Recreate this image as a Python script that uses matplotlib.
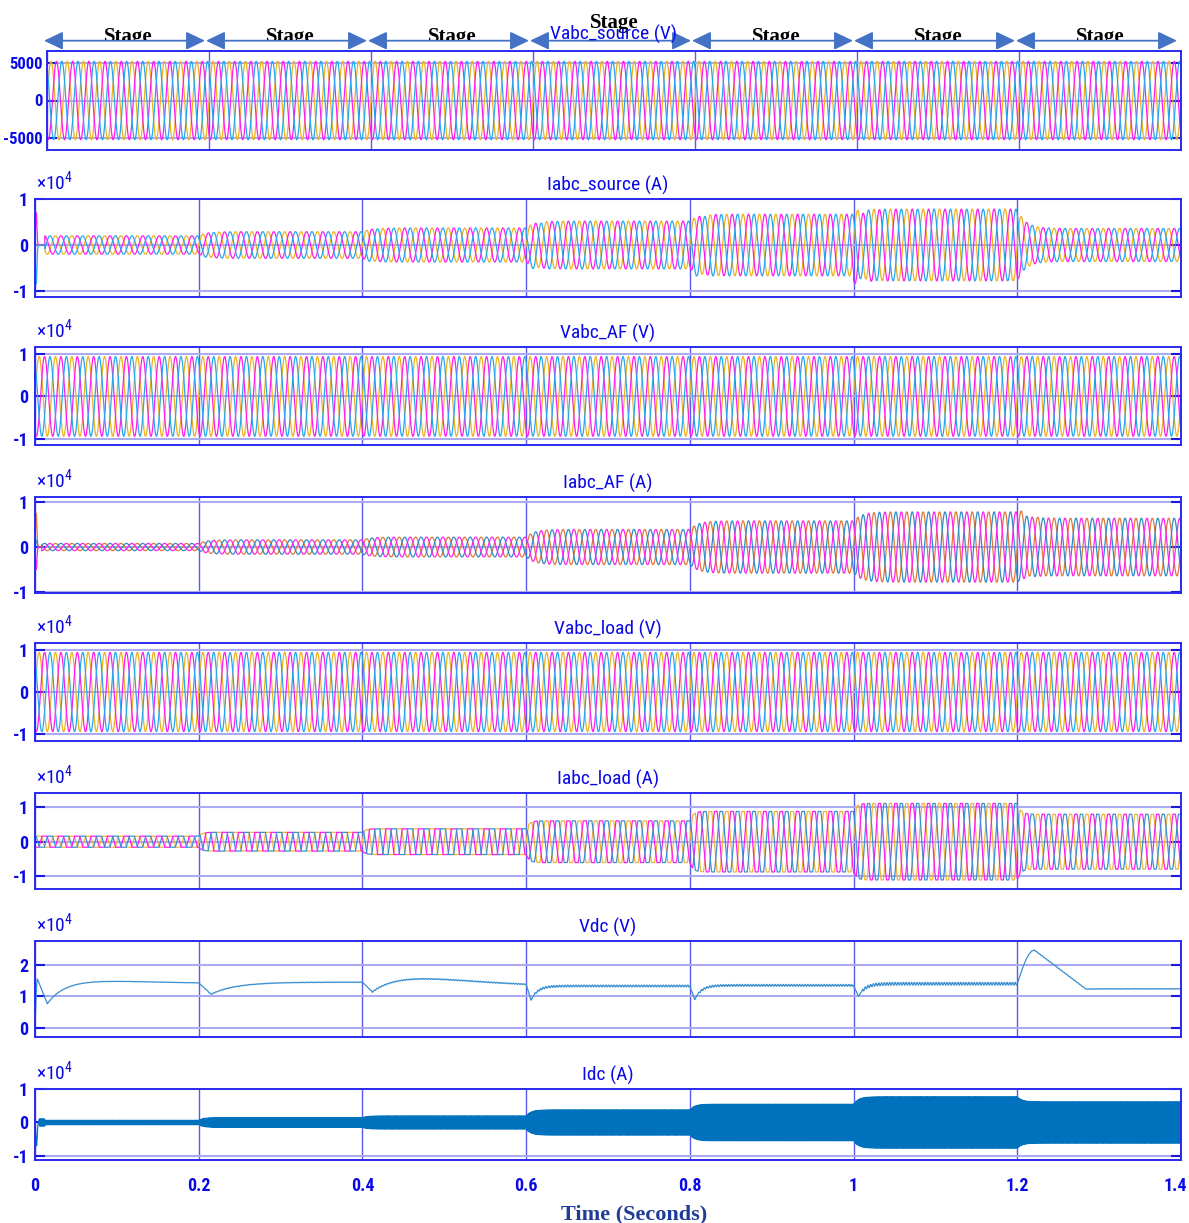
import numpy as np
import matplotlib
matplotlib.use("Agg")
import matplotlib.pyplot as plt
from matplotlib import font_manager
from matplotlib.transforms import Bbox, TransformedBbox, ScaledTranslation, blended_transform_factory

# ---------------- data ----------------
stage_edges = [0.0, 0.2, 0.4, 0.6, 0.8, 1.0, 1.2, 1.4]
x_tick_labels = ["0", "0.2", "0.4", "0.6", "0.8", "1", "1.2", "1.4"]
f_line = 50.0

titles = ["Vabc_source (V)", "Iabc_source (A)", "Vabc_AF (V)", "Iabc_AF (A)",
          "Vabc_load (V)", "Iabc_load (A)", "Vdc (V)", "Idc (A)"]

# peak amplitude of each three-phase quantity in every stage
v_source_amp = [5230, 5230, 5230, 5230, 5230, 5230, 5230]
i_source_amp = [2000, 2900, 3700, 5200, 6700, 7800, 3600]
v_af_amp = [9350, 9350, 9350, 9350, 9350, 9350, 9350]
i_af_amp = [800, 1600, 2200, 3900, 5800, 7800, 6400]
v_load_amp = [9450, 9450, 9450, 9450, 9450, 9450, 9450]
i_load_amp = [1600, 2700, 3700, 6000, 8700, 11000, 7900]
i_load_flat = [1.8, 1.8, 1.8, 1.2, 1.15, 1.1, 1.1]

# offsets (phase a, b, c) thrown in at each stage change 0.2 ... 1.2
i_source_kick = [[0, 0, -300], [0, 0, -400], [0, 0, -1300],
                 [0, 0, -1600], [700, -1800, 0], [0, 0, 0]]
i_af_kick = [[0, 0, 0], [0, 0, 0], [0, 0, 0],
             [0, 0, 0], [0, 0, 0], [1200, 0, 0]]
# start-up spikes (phase a, b, c)
i_source_spike = [0, 7000, -8500]
i_af_spike = [7500, 1500, -5000]

# DC link: per-stage peak, dip, settling level, time constant, bump, ripple
vdc_peak = [15500, None, None, None, None, None, 24600]
vdc_peak_dt = [0.003, 0, 0, 0, 0, 0, 0.021]
vdc_dip = [7700, 10700, 11400, 8800, 9000, 10000, 12300]
vdc_dip_dt = [0.015, 0.015, 0.012, 0.006, 0.006, 0.006, 0.084]
vdc_settle = [13900, 14500, 12800, 13300, 13500, 14000, 12400]
vdc_tau = [0.02, 0.03, 0.02, 0.008, 0.008, 0.008, 0.01]
vdc_bump = [1000, 0, 2800, 0, 0, 0, 0]
vdc_ripple = [50, 100, 150, 300, 300, 450, 100]

idc_amp = [700, 1500, 2000, 3800, 5500, 7700, 6200]
idc_spike = -7000

# ---------------- signals ----------------
t = np.linspace(0, 1.4, 84001)
k_idx = np.searchsorted(stage_edges[1:-1], t, side="right")
t_start = np.asarray(stage_edges)[k_idx]
dt = t - t_start
phase_shift = [0.0, -2 * np.pi / 3, 2 * np.pi / 3]


def envelope(amps, tau):
    amps = np.asarray(amps, dtype=float)
    prev = np.concatenate([[amps[0]], amps[:-1]])
    return amps[k_idx] + (prev[k_idx] - amps[k_idx]) * np.exp(-dt / tau)


def three_phase(amps, tau=0.008, flat=None, kicks=None, spike=None, t_on=0.0):
    env = envelope(amps, tau)
    out = []
    for p, ph in enumerate(phase_shift):
        s = np.sin(2 * np.pi * f_line * t + ph)
        if flat is not None:
            s = np.clip(np.asarray(flat)[k_idx] * s, -1, 1)
        y = env * s * (t >= t_on)
        if kicks is not None:
            for j, tb in enumerate(stage_edges[1:-1]):
                on = t >= tb
                y[on] += kicks[j][p] * np.exp(-(t[on] - tb) / 0.01)
        if spike is not None:
            y += spike[p] * np.exp(-((t - 0.0015) / 0.0012) ** 2)
        out.append(y)
    return out


def dc_link():
    v = np.zeros_like(t)
    level = 0.0
    for k in range(7):
        m = k_idx == k
        d = dt[m]
        y = np.empty_like(d)
        if vdc_peak[k] is not None:
            pk_dt = vdc_peak_dt[k]
            a = d <= pk_dt
            y[a] = level + (vdc_peak[k] - level) * np.sin(0.5 * np.pi * d[a] / pk_dt)
            b = (d > pk_dt) & (d <= vdc_dip_dt[k])
            y[b] = vdc_peak[k] + (vdc_dip[k] - vdc_peak[k]) * (d[b] - pk_dt) / (vdc_dip_dt[k] - pk_dt)
        else:
            a = d <= vdc_dip_dt[k]
            y[a] = level + (vdc_dip[k] - level) * d[a] / vdc_dip_dt[k]
        c = d > vdc_dip_dt[k]
        s = d[c] - vdc_dip_dt[k]
        y[c] = vdc_settle[k] + (vdc_dip[k] - vdc_settle[k]) * np.exp(-s / vdc_tau[k])
        y[c] += vdc_bump[k] * (s / 0.06) * np.exp(1 - s / 0.06)
        y += vdc_ripple[k] * np.sin(2 * np.pi * 300 * d) * (d > 0.01)
        v[m] = y
        level = y[-1]
    return v


v_source = three_phase(v_source_amp)
i_source = three_phase(i_source_amp, tau=0.01, kicks=i_source_kick,
                       spike=i_source_spike, t_on=0.012)
v_af = three_phase(v_af_amp)
i_af = three_phase(i_af_amp, tau=0.01, kicks=i_af_kick, spike=i_af_spike, t_on=0.008)
v_load = three_phase(v_load_amp)
i_load = three_phase(i_load_amp, tau=0.004, flat=i_load_flat)
vdc = dc_link()
idc = (envelope(idc_amp, 0.006) * np.sin(2 * np.pi * 700 * t) * (t > 0.012)
       + idc_spike * np.exp(-((t - 0.002) / 0.001) ** 2)
       + 1000 * ((t > 0.005) & (t < 0.012)) * np.sign(np.sin(2 * np.pi * 2000 * t)))

# ---------------- fonts ----------------
names = {f.name for f in font_manager.fontManager.ttflist}
narrow = next((n for n in ["Liberation Sans Narrow", "Roboto Condensed", "Liberation Sans"]
               if n in names), "DejaVu Sans")
plt.rcParams["font.family"] = [narrow, "DejaVu Sans"]
plt.rcParams["mathtext.fontset"] = "custom"
plt.rcParams["mathtext.rm"] = narrow
plt.rcParams["mathtext.it"] = narrow

BLUE_TXT = "#0a0ae6"
FRAME = "#2a2af0"
col_src = ["#EDB120", "#FF1AF0", "#27A6EE"]
col_af = ["#E0783A", "#2E8BC8", "#FF22EE"]
col_load = ["#F0B43C", "#FF1AF0", "#3D8FD0"]

W, H = 1189, 1223
fig = plt.figure(figsize=(W / 100, H / 100), dpi=100)

# pixel boxes: left, top, bottom
boxes = [(47, 51, 150), (35, 199, 297), (35, 347, 445), (35, 497, 593),
         (35, 643, 741), (35, 793, 889), (35, 941, 1037), (35, 1089, 1160)]
right = 1181
ylims = [(-6600, 6600), (-11300, 10000), (-11400, 11600), (-10200, 11100),
         (-11700, 11700), (-13600, 14000), (-2800, 27500), (-11200, 10000)]
yticks = [[-5000, 0, 5000], [-10000, 0, 10000], [-10000, 0, 10000], [-10000, 0, 10000],
          [-10000, 0, 10000], [-10000, 0, 10000], [0, 10000, 20000], [-10000, 0, 10000]]
ylabels = [["-5000", "0", "5000"]] + [["-1", "0", "1"]] * 5 + [["0", "1", "2"], ["-1", "0", "1"]]

series = [(v_source, col_src), (i_source, col_src), (v_af, col_src), (i_af, col_af),
          (v_load, col_src), (i_load, col_load)]

axes = []
for i, (x0, ytop, ybot) in enumerate(boxes):
    ax = fig.add_axes([x0 / W, 1 - ybot / H, (right - x0) / W, (ybot - ytop) / H])
    axes.append(ax)
    if i < 6:
        waves, cols = series[i]
        for y, c in zip(waves, cols):
            ax.plot(t, y, color=c, lw=0.9)
    elif i == 6:
        ax.plot(t, vdc, color="#3A8FD0", lw=0.9)
    else:
        ax.plot(t, idc, color="#0072BD", lw=0.8)

    ax.set_xlim(0, 1.4)
    ax.set_ylim(*ylims[i])
    ax.set_xticks(stage_edges)
    ax.set_yticks(yticks[i])
    ax.set_yticklabels(ylabels[i], fontweight="bold", fontsize=12 if i == 0 else 13,
                       color=BLUE_TXT)
    ax.xaxis.grid(True, color="#5a5af0", lw=1.0)
    ax.yaxis.grid(True, color="#ababf3", lw=1.5)
    ax.set_axisbelow(True)
    ax.tick_params(axis="y", direction="in", length=7, width=1.5, color="#1a1ad8",
                   left=True, right=True, pad=3 if i == 0 else 5)
    ax.tick_params(axis="x", length=0, pad=12)
    if i == 7:
        ax.set_xticklabels(x_tick_labels, fontweight="bold", fontsize=13, color=BLUE_TXT)
        last = ax.get_xticklabels()[-1]
        last.set_transform(last.get_transform()
                           + ScaledTranslation(-4 / 72, 0, fig.dpi_scale_trans))
    else:
        ax.set_xticklabels([])
    for sp in ax.spines.values():
        sp.set_color(FRAME)
        sp.set_linewidth(1.4)
    ax.set_title(titles[i], color=BLUE_TXT, fontsize=14, pad=8 if i == 0 else 6)
    if i > 0:
        ax.annotate("×10$^{4}$", xy=(0, 1), xycoords="axes fraction", xytext=(0.5, 4),
                    textcoords="offset points", color=BLUE_TXT, fontsize=14,
                    ha="left", va="bottom")

# stage arrows above the first panel
ax1 = axes[0]
trans = blended_transform_factory(ax1.transData, fig.transFigure)
y_arrow = 1 - 40.7 / H
serif = "Liberation Serif"
clip = TransformedBbox(Bbox.from_extents(0, 1 - 39.5 / H, 1, 1), fig.transFigure)
px = 1.4 / (right - boxes[0][0])
for k in range(7):
    a, b = stage_edges[k], stage_edges[k + 1]
    ax1.annotate("", xy=(b - 4 * px, y_arrow), xytext=(a - 3 * px, y_arrow),
                 xycoords=trans, textcoords=trans, annotation_clip=False,
                 arrowprops=dict(arrowstyle="<|-|>,head_length=1.15,head_width=0.55",
                                 mutation_scale=10, color="#4472C4", lw=1.3,
                                 shrinkA=0, shrinkB=0))
    mid = (a + b) / 2
    if k == 3:
        ax1.text(mid, 1 - 28.3 / H, "Stage", transform=trans, ha="center", va="baseline",
                 fontsize=15, fontweight="bold", family=serif, color="black")
    else:
        txt = ax1.text(mid, 1 - 42 / H, "Stage", transform=trans, ha="center",
                       va="baseline", fontsize=15, fontweight="bold", family=serif,
                       color="black")
        txt.set_clip_box(clip)
        txt.set_clip_on(True)

fig.text(634 / W, 1 - 1219 / H, "Time (Seconds)", ha="center", va="baseline",
         fontsize=16, fontweight="bold", family=serif, color="#1F3C96")

fig.savefig("out.png", dpi=100)
